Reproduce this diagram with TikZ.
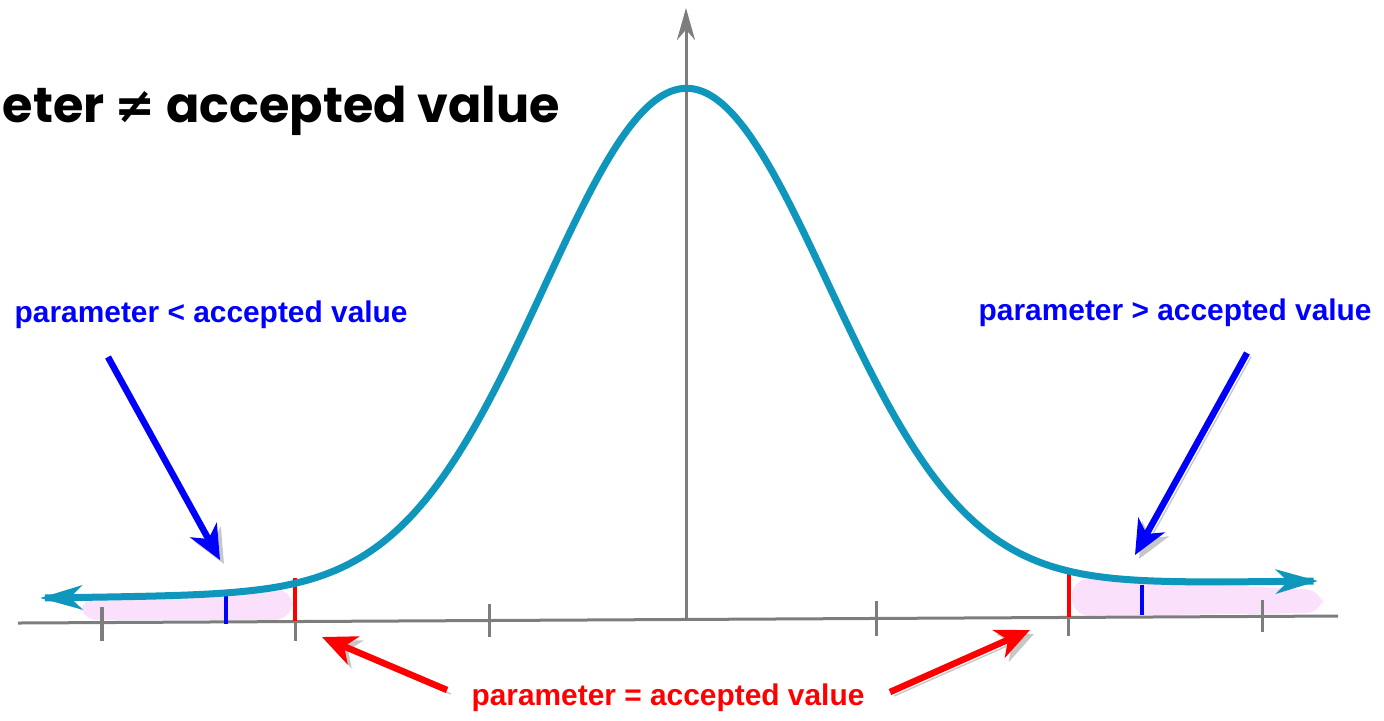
\documentclass[tikz,border=0pt]{standalone}
\usepackage{fontspec}
\setmainfont{Liberation Sans}
\newfontfamily\titlefont{Poppins}
\newfontfamily\symfont{DejaVu Sans}
\usetikzlibrary{arrows.meta}
\definecolor{bellteal}{RGB}{14,150,188}
\definecolor{axisgray}{RGB}{125,125,125}
\definecolor{tailpink}{RGB}{251,224,251}

\begin{document}
\begin{tikzpicture}[
  x=0.01cm, y=-0.01cm,
  curve/.style={draw=bellteal, line width=0.07cm,
                {Stealth[length=0.42cm, width=0.24cm, inset=0.12cm]}-{Stealth[length=0.42cm, width=0.24cm, inset=0.12cm]}},
  axisline/.style={draw=axisgray, line width=0.03cm},
  cut/.style={line width=0.045cm},
  ptr/.style={line width=0.065cm, -{Stealth[length=0.34cm, width=0.3cm, inset=0.1cm]},
              preaction={draw=black!22, transform canvas={shift={(4,4)}}}},
  lbl/.style={font=\bfseries\fontsize{8.5}{10}\selectfont, inner sep=0pt, anchor=base west},
]
\useasboundingbox (0,0) rectangle (1384,720);

% shaded tails
\fill[tailpink, rounded corners=5] (80,598) -- (292,588) -- (292,620) -- (80,620) -- cycle;
\fill[tailpink, rounded corners=5] (1072,578) -- (1323,590) -- (1323,613) -- (1072,616) -- cycle;

% axes
\draw[axisline] (18,623) -- (1338,616);
\foreach \tx/\ta/\tb in {102/607/641, 295/606/641, 489/604/637, 876/601/636, 1068/600/636, 1262/600/632}
  \draw[axisline] (\tx,\ta) -- (\tx,\tb);
\draw[axisline, -{Stealth[length=0.32cm, width=0.18cm]}] (686,621) -- (686,8);

% cut-off marks
\draw[cut, red] (295,578) -- (295,621);
\draw[cut, blue] (226,590) -- (226,624);
\draw[cut, red] (1069,572) -- (1069,617);
\draw[cut, blue] (1142,585) -- (1142,615);

% bell curve
\draw[curve] plot[domain=40:1318, samples=240, smooth]
  (\x, {598 - 0.0133*(\x-40) - 501*exp(-0.5*((\x-686)/142)*((\x-686)/142))});

% labels
\node[inner sep=0pt, anchor=base west, font=\titlefont\bfseries\fontsize{14}{16}\selectfont] (title) at (2,122)
  {eter {\symfont\bfseries ≠} accepted value};
\node[lbl, text=blue] (lowlabel) at (14,322) {parameter < accepted value};
\node[lbl, text=blue] (highlabel) at (978,320) {parameter > accepted value};
\node[lbl, text=red, anchor=base] (eqlabel) at (668,705) {parameter = accepted value};

% pointers
\coordinate (lowstart) at (108,357);
\coordinate (lowtip) at (220,560);
\coordinate (highstart) at (1247,353);
\coordinate (hightip) at (1135,555);
\coordinate (eqleftstart) at (447,690);
\coordinate (eqlefttip) at (322,637);
\coordinate (eqrightstart) at (890,692);
\coordinate (eqrighttip) at (1030,630);
\draw[ptr, blue] (lowstart) -- (lowtip);
\draw[ptr, blue] (highstart) -- (hightip);
\draw[ptr, red] (eqleftstart) -- (eqlefttip);
\draw[ptr, red] (eqrightstart) -- (eqrighttip);

\end{tikzpicture}
\end{document}
